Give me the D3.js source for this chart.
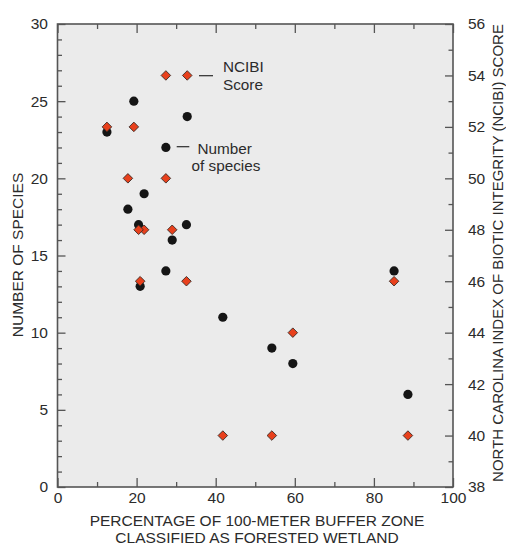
<!DOCTYPE html>
<html>
<head>
<meta charset="utf-8">
<script src="https://cdn.jsdelivr.net/npm/d3@7"></script>
<style>
  html, body { margin: 0; padding: 0; background: #fff; }
  svg { display: block; font-family: 'Liberation Sans', Arial, sans-serif; }
  .tick text { fill: #2b2b2b; }
</style>
</head>
<body>
<div id="chart"></div>
<script>
// forested wetland % vs number of species (left axis) and NCIBI score (right axis)
const pctForested = [12.5, 19.3, 32.8, 27.4, 21.9, 17.8, 20.5, 32.6, 29.0, 27.4, 20.9, 41.8, 54.2, 59.5, 88.6, 85.1];
const speciesCount = [23, 25, 24, 22, 19, 18, 17, 17, 16, 14, 13, 11, 9, 8, 6, 14];
const ncibiScore = [52, 52, 54, 54, 48, 50, 48, 46, 48, 50, 46, 40, 40, 44, 40, 46];

const xTicks = [0, 20, 40, 60, 80, 100];
const xMinor = [10, 30, 50, 70, 90];
const leftTicks = [0, 5, 10, 15, 20, 25, 30];
const rightTicks = [38, 40, 42, 44, 46, 48, 50, 52, 54, 56];

const xTitle = ['PERCENTAGE OF 100-METER BUFFER ZONE', 'CLASSIFIED AS FORESTED WETLAND'];
const leftTitle = 'NUMBER OF SPECIES';
const rightTitle = 'NORTH CAROLINA INDEX OF BIOTIC INTEGRITY (NCIBI) SCORE';
const ncibiLabel = ['NCIBI', 'Score'];
const speciesLabel = ['Number', 'of species'];

const W = 506, H = 545;
const plot = { left: 57.5, right: 453, top: 24, bottom: 487 };
const ink = '#2b2b2b', frame = '#555';

const svg = d3.select('#chart').append('svg')
  .attr('width', W).attr('height', H);

const x = d3.scaleLinear().domain([0, 100]).range([plot.left, plot.right]);
const yL = d3.scaleLinear().domain([0, 30]).range([plot.bottom, plot.top]);
const yR = d3.scaleLinear().domain([38, 56]).range([plot.bottom, plot.top]);

svg.append('rect')
  .attr('x', plot.left).attr('y', plot.top)
  .attr('width', plot.right - plot.left).attr('height', plot.bottom - plot.top)
  .attr('fill', '#ebebeb');

function styleAxis(g, fs) {
  g.select('.domain').remove();
  g.selectAll('.tick line').attr('stroke', frame).attr('stroke-width', 1.3);
  g.selectAll('.tick text').style('font-size', fs + 'px').attr('fill', ink);
}

// bottom
svg.append('g').attr('transform', `translate(0,${plot.bottom})`)
  .call(d3.axisBottom(x).tickValues(xTicks).tickSize(-9).tickPadding(5).tickFormat(d3.format('d')))
  .call(g => styleAxis(g, 15.5));
svg.append('g').attr('transform', `translate(0,${plot.bottom})`)
  .call(d3.axisBottom(x).tickValues(xMinor).tickSize(-5).tickFormat(''))
  .call(g => styleAxis(g, 0));
// top
svg.append('g').attr('transform', `translate(0,${plot.top})`)
  .call(d3.axisTop(x).tickValues(xTicks).tickSize(-9).tickFormat(''))
  .call(g => styleAxis(g, 0));
svg.append('g').attr('transform', `translate(0,${plot.top})`)
  .call(d3.axisTop(x).tickValues(xMinor).tickSize(-5).tickFormat(''))
  .call(g => styleAxis(g, 0));
// left
svg.append('g').attr('transform', `translate(${plot.left},0)`)
  .call(d3.axisLeft(yL).tickValues(leftTicks).tickSize(-8).tickPadding(9.5).tickFormat(d3.format('d')))
  .call(g => styleAxis(g, 15.5));
svg.append('g').attr('transform', `translate(${plot.left},0)`)
  .call(d3.axisLeft(yL).tickValues(d3.range(1, 30).filter(v => v % 5)).tickSize(-4.5).tickFormat(''))
  .call(g => styleAxis(g, 0));
// right
svg.append('g').attr('transform', `translate(${plot.right},0)`)
  .call(d3.axisRight(yR).tickValues(rightTicks).tickSize(-8).tickPadding(15).tickFormat(d3.format('d')))
  .call(g => styleAxis(g, 15.5));
svg.append('g').attr('transform', `translate(${plot.right},0)`)
  .call(d3.axisRight(yR).tickValues(d3.range(39, 56, 2)).tickSize(-4.5).tickFormat(''))
  .call(g => styleAxis(g, 0));

svg.append('rect')
  .attr('x', plot.left).attr('y', plot.top)
  .attr('width', plot.right - plot.left).attr('height', plot.bottom - plot.top)
  .attr('fill', 'none').attr('stroke', frame).attr('stroke-width', 1.6);

// titles
svg.append('g').selectAll('text').data(xTitle).join('text')
  .attr('x', 257).attr('y', (d, i) => 525.5 + i * 17.5)
  .attr('text-anchor', 'middle').attr('fill', ink)
  .style('font-size', '15.5px').text(d => d);

svg.append('text')
  .attr('transform', `translate(23,255) rotate(-90)`)
  .attr('text-anchor', 'middle').attr('fill', ink)
  .style('font-size', '15.5px').text(leftTitle);

// right edge title, pulled in just enough to stay inside the frame
svg.append('text')
  .attr('transform', `translate(503,253) rotate(-90)`)
  .attr('text-anchor', 'middle').attr('fill', ink)
  .style('font-size', '15px').text(rightTitle);

// marks
const pts = pctForested.map((p, i) => ({ p, s: speciesCount[i], n: ncibiScore[i] }));

svg.append('g').selectAll('circle').data(pts).join('circle')
  .attr('cx', d => x(d.p)).attr('cy', d => yL(d.s))
  .attr('r', 4.6).attr('fill', '#151515');

const diamond = d3.symbol().type(d3.symbolDiamond2).size(58);
svg.append('g').selectAll('path').data(pts).join('path')
  .attr('transform', d => `translate(${x(d.p)},${yR(d.n)})`)
  .attr('d', diamond)
  .attr('fill', '#e8401c').attr('stroke', '#3a2a25').attr('stroke-width', 0.9);

// callouts
const callouts = [
  { lines: ncibiLabel, dash: [199, 213, 75.7], tx: [223, 223], ty: [71.5, 89.5] },
  { lines: speciesLabel, dash: [176.7, 189.3, 146.7], tx: [197.5, 191.5], ty: [153.5, 171] }
];
callouts.forEach(c => {
  svg.append('line')
    .attr('x1', c.dash[0]).attr('x2', c.dash[1])
    .attr('y1', c.dash[2]).attr('y2', c.dash[2])
    .attr('stroke', ink).attr('stroke-width', 1.2);
  c.lines.forEach((t, i) => {
    svg.append('text').attr('x', c.tx[i]).attr('y', c.ty[i])
      .attr('fill', ink).style('font-size', '15.3px').text(t);
  });
});
</script>
</body>
</html>
